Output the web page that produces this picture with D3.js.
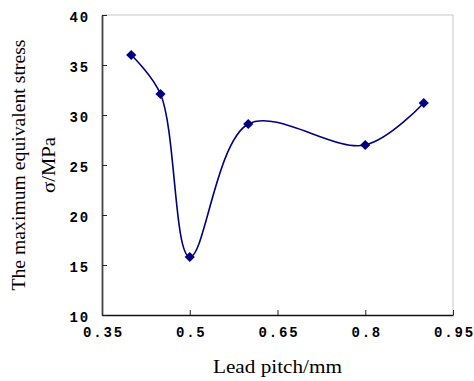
<!DOCTYPE html>
<html>
<head>
<meta charset="utf-8">
<script src="https://cdn.jsdelivr.net/npm/d3@7"></script>
<style>
  body { margin: 0; background: #fff; }
  svg { display: block; }
</style>
</head>
<body>
<div id="chart"></div>
<script>
// Lead pitch (mm) vs. maximum equivalent stress (MPa)
var pitch = [0.4, 0.45, 0.5, 0.6, 0.8, 0.9];
var stress = [36, 32.1, 15.8, 29.1, 27, 31.2];
var xTicks = [0.35, 0.5, 0.65, 0.8, 0.95];
var yTicks = [10, 15, 20, 25, 30, 35, 40];

var width = 474,
    height = 381,
    margin = {top: 15, right: 21, bottom: 66, left: 102};

var svg = d3.select("#chart").append("svg")
    .attr("width", width)
    .attr("height", height);

var x = d3.scaleLinear().domain([0.35, 0.95]).range([margin.left, width - margin.right]);
var y = d3.scaleLinear().domain([10, 40]).range([height - margin.bottom, margin.top]);

//Plot frame: light top/right border
svg.append("path")
    .attr("d", "M" + x(0.35) + "," + y(40) + "H" + x(0.95) + "V" + y(10))
    .attr("fill", "none")
    .attr("stroke", "#c8c8c8")
    .attr("stroke-width", 1);

//Axes, ticks pointing inward
var xAxis = svg.append("g")
    .attr("transform", "translate(0," + y(10) + ")")
    .call(d3.axisBottom(x).tickValues(xTicks).tickSizeInner(-5).tickSizeOuter(0).tickFormat(d => String(d)));
var yAxis = svg.append("g")
    .attr("transform", "translate(" + x(0.35) + ",0)")
    .call(d3.axisLeft(y).tickValues(yTicks).tickSizeInner(-5).tickSizeOuter(0));

xAxis.select(".domain").attr("stroke", "#111").attr("stroke-width", 1.5);
yAxis.select(".domain").attr("stroke", "#444").attr("stroke-width", 1.8);
[xAxis, yAxis].forEach(function(a) {
  a.selectAll(".tick line").attr("stroke", "#222");
  a.selectAll(".tick text")
    .attr("fill", "#000")
    .style("font-family", "'Liberation Mono', 'DejaVu Sans Mono', monospace")
    .style("font-weight", "bold")
    .style("font-size", "14px")
    .style("letter-spacing", "1.8px");
});
xAxis.selectAll(".tick text").attr("y", 22).attr("dy", 0).attr("dx", "1px");
yAxis.selectAll(".tick text").attr("x", -12).attr("dy", "0.45em");

//Smoothed line
var line = d3.line()
    .x((d, i) => x(pitch[i]))
    .y(d => y(d))
    .curve(d3.curveCatmullRom.alpha(0.5));

svg.append("path")
    .datum(stress)
    .attr("d", line)
    .attr("fill", "none")
    .attr("stroke", "#000080")
    .attr("stroke-width", 1.6);

svg.selectAll(".marker")
    .data(stress)
  .enter().append("path")
    .attr("class", "marker")
    .attr("d", d3.symbol().type(d3.symbolSquare).size(52))
    .attr("transform", (d, i) => "translate(" + x(pitch[i]) + "," + y(d) + ") rotate(45)")
    .attr("fill", "#000080");

//Axis titles
svg.append("text")
    .attr("x", (x(0.35) + x(0.95)) / 2)
    .attr("y", 373)
    .attr("text-anchor", "middle")
    .attr("textLength", 129)
    .attr("lengthAdjust", "spacingAndGlyphs")
    .style("font-family", "'Liberation Serif', 'Times New Roman', serif")
    .style("font-size", "18px")
    .text("Lead pitch/mm");

var yMid = (y(10) + y(40)) / 2;
svg.append("text")
    .attr("transform", "translate(25," + yMid + ") rotate(-90)")
    .attr("text-anchor", "middle")
    .attr("textLength", 251)
    .attr("lengthAdjust", "spacingAndGlyphs")
    .style("font-family", "'Liberation Serif', 'Times New Roman', serif")
    .style("font-size", "18px")
    .text("The maximum equivalent stress");
svg.append("text")
    .attr("transform", "translate(55," + yMid + ") rotate(-90)")
    .attr("text-anchor", "middle")
    .attr("textLength", 56)
    .attr("lengthAdjust", "spacingAndGlyphs")
    .style("font-family", "'Liberation Serif', 'Times New Roman', serif")
    .style("font-size", "18px")
    .text("σ/MPa");
</script>
</body>
</html>
